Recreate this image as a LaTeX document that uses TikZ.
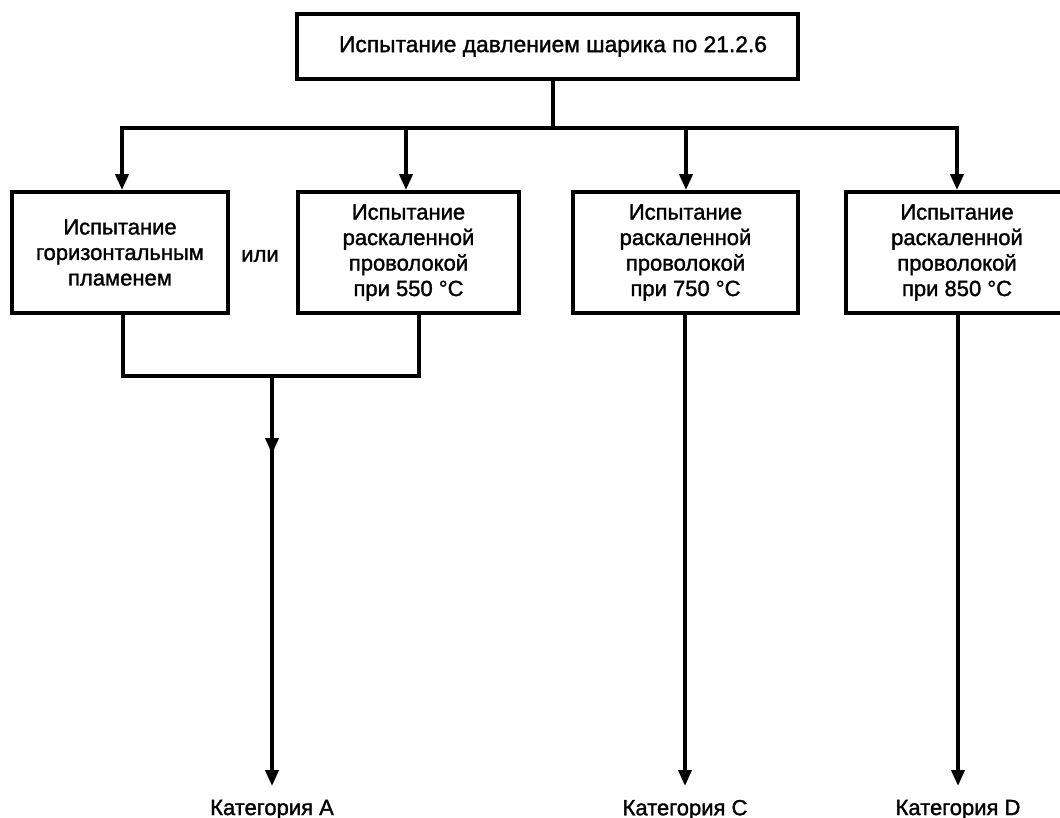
\documentclass[tikz,border=0pt]{standalone}
\usepackage{fontspec}
\setmainfont{Liberation Sans}[FakeBold=1.4]
\usetikzlibrary{arrows.meta}
\begin{document}
\begin{tikzpicture}[x=1pt,y=-1pt,
  line width=3.8pt,
  box/.style={draw,line width=3.8pt,rectangle,inner sep=0pt,minimum height=121pt,align=center,font=\fontsize{22}{25.5}\selectfont},
  lab/.style={inner sep=0pt,anchor=north,font=\fontsize{22}{24}\selectfont},
  arr/.style={-{Triangle[length=16pt,width=13pt]}}]
\useasboundingbox (0,0) rectangle (1060,818);
\clip (0,0) rectangle (1060,818);
\fill[white] (0,0) rectangle (1060,818);

\node[box,minimum width=501pt,minimum height=65pt,font=\fontsize{22.8}{26}\selectfont] (top) at (547.5,46.5) {\hspace*{11pt}Испытание давлением шарика по 21.2.6};

\node[box,minimum width=216pt] (b1) at (120,252.5) {Испытание\\горизонтальным\\пламенем};
\node[box,minimum width=221pt] (b2) at (408.5,252.5) {Испытание\\раскаленной\\проволокой\\при 550 °C};
\node[box,minimum width=225pt] (b3) at (685.5,252.5) {Испытание\\раскаленной\\проволокой\\при 750 °C};
\node[box,minimum width=222pt] (b4) at (957,252.5) {Испытание\\раскаленной\\проволокой\\при 850 °C};

\node[inner sep=0pt,font=\fontsize{22}{25.5}\selectfont] (ili) at (260,256) {или};

\node[lab] (labA) at (272,798) {Категория A};
\node[lab] (labC) at (685,798) {Категория C};
\node[lab] (labD) at (958,798) {Категория D};

% distribution
\coordinate (j) at (553,128);
\coordinate (h1) at (122,128);
\coordinate (h2) at (406,128);
\coordinate (h3) at (686,128);
\coordinate (h4) at (957,128);
\draw (top.south -| j) -- (j);
\draw[line cap=rect] (h1) -- (h4);
\draw[arr] (h1) -- (b1.north -| h1);
\draw[arr] (h2) -- (b2.north -| h2);
\draw[arr] (h3) -- (b3.north -| h3);
\draw[arr] (h4) -- (b4.north -| h4);

% merge of first two
\coordinate (m1) at (123,376);
\coordinate (m2) at (419,376);
\coordinate (mA) at (272,376);
\coordinate (midA) at (272,454);
\draw (b1.south -| m1) -- (m1) -- (m2) -- (b2.south -| m2);
\draw[arr] (mA) -- (midA);
\draw[arr] ([yshift=8pt]midA) -- ([yshift=12pt]labA.north);
\draw[arr] (b3.south -| labC) -- ([yshift=12pt]labC.north);
\draw[arr] (b4.south -| labD) -- ([yshift=12pt]labD.north);
\end{tikzpicture}
\end{document}
